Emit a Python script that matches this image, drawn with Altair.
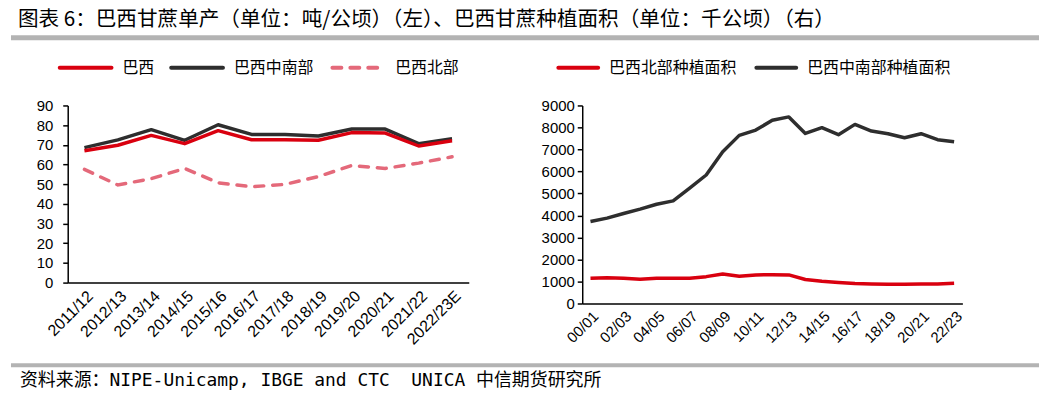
import altair as alt
import pandas as pd

# ---------------- data ----------------
title_text = "图表 6：巴西甘蔗单产（单位：吨/公顷）（左）、巴西甘蔗种植面积（单位：千公顷）（右）"
footer_text = "资料来源：NIPE-Unicamp, IBGE and CTC \u00a0UNICA 中信期货研究所"

seasons_l = ["2011/12", "2012/13", "2013/14", "2014/15", "2015/16", "2016/17",
             "2017/18", "2018/19", "2019/20", "2020/21", "2021/22", "2022/23E"]
names_l = ["巴西", "巴西中南部", "巴西北部"]
brazil = [67.0, 69.8, 74.8, 70.6, 77.2, 72.6, 72.6, 72.3, 76.2, 76.0, 69.4, 72.1]
center_south = [68.6, 72.5, 77.7, 72.3, 80.2, 75.3, 75.2, 74.5, 78.0, 78.0, 70.6, 73.1]
north = [57.5, 49.6, 52.8, 58.0, 50.7, 48.7, 49.9, 53.9, 59.5, 58.0, 60.7, 63.9]

seasons_r = ["00/01", "01/02", "02/03", "03/04", "04/05", "05/06", "06/07", "07/08",
             "08/09", "09/10", "10/11", "11/12", "12/13", "13/14", "14/15", "15/16",
             "16/17", "17/18", "18/19", "19/20", "20/21", "21/22", "22/23"]
names_r = ["巴西北部种植面积", "巴西中南部种植面积"]
north_area = [1150, 1175, 1150, 1100, 1150, 1150, 1150, 1220, 1340, 1240, 1300, 1310,
              1300, 1090, 1010, 950, 905, 890, 875, 875, 890, 890, 920]
cs_area = [3730, 3880, 4090, 4290, 4510, 4665, 5240, 5840, 6900, 7640, 7880, 8330,
           8480, 7730, 7990, 7670, 8140, 7835, 7715, 7535, 7715, 7445, 7355]

# ---------------- styles ----------------
RED = "#D9000F"
DARK = "#2E2E2E"
PINK = "#E4697A"
GRAY = "#B3B3B3"
CJK = "Noto Sans CJK SC"
NUM = "Liberation Sans"

one = pd.DataFrame({"k": [0]})


def series_df(cats, vals):
    return pd.DataFrame({"season": cats, "value": vals})


def text_layer(txt, x, y, size, font=CJK):
    return alt.Chart(pd.DataFrame({"t": [txt]})).mark_text(
        align="left", baseline="middle", font=font, fontSize=size, color="black"
    ).encode(x=alt.value(x), y=alt.value(y), text="t:N")


def legend_line(x1, x2, y, color, dash=None):
    kw = dict(color=color, strokeWidth=4, strokeCap="round")
    if dash:
        kw["strokeDash"] = dash
    return alt.Chart(one).mark_rule(**kw).encode(
        x=alt.value(x1), x2=alt.value(x2), y=alt.value(y))


# ---------------- left panel ----------------
LW, LH = 403, 178
xl = alt.X("season:N", scale=alt.Scale(type="point", domain=seasons_l, padding=0.5),
           axis=alt.Axis(title=None, labelAngle=-45, ticks=False, labelPadding=5,
                         labelFont=NUM, labelFontSize=16, labelColor="black",
                         domainColor="black", domainWidth=1.5))
yl = alt.Y("value:Q", scale=alt.Scale(domain=[0, 90], nice=False),
           axis=alt.Axis(title=None, values=list(range(0, 91, 10)), tickSize=5,
                         tickWidth=1.5, tickColor="black", labelPadding=10,
                         labelFont=NUM, labelFontSize=15, labelColor="black",
                         domainColor="black", domainWidth=1.5, grid=False))

frame = alt.Chart(one).mark_rect(opacity=0).encode(
    x=alt.value(-60), x2=alt.value(-50), y=alt.value(-97), y2=alt.value(-90))

l_north = alt.Chart(series_df(seasons_l, north)).mark_line(
    color=PINK, strokeWidth=3.5, strokeDash=[9, 9], strokeCap="round").encode(x=xl, y=yl)
l_cs = alt.Chart(series_df(seasons_l, center_south)).mark_line(
    color=DARK, strokeWidth=3.5, strokeJoin="round").encode(x=xl, y=yl)
l_br = alt.Chart(series_df(seasons_l, brazil)).mark_line(
    color=RED, strokeWidth=3.5, strokeJoin="round").encode(x=xl, y=yl)

decor_l = [
    frame,
    text_layer(title_text, -50, -86, 20.7),
    alt.Chart(one).mark_rule(color=GRAY, strokeWidth=5).encode(
        x=alt.value(-57), x2=alt.value(976), y=alt.value(-68)),
    alt.Chart(one).mark_rule(color=GRAY, strokeWidth=4).encode(
        x=alt.value(-57), x2=alt.value(976), y=alt.value(261)),
    text_layer(footer_text, -48, 277, 18, font="DejaVu Sans Mono, " + CJK),
    legend_line(-8, 44, -38, RED),
    text_layer(names_l[0], 55, -38, 16),
    legend_line(104, 156, -38, DARK),
    text_layer(names_l[1], 167, -38, 16),
    legend_line(266, 312, -38, PINK, dash=[9, 9]),
    text_layer(names_l[2], 329, -38, 16),
]

left = alt.layer(*decor_l, l_north, l_cs, l_br).properties(width=LW, height=LH)

# ---------------- right panel ----------------
RW, RH = 382, 199
xr = alt.X("season:N", scale=alt.Scale(type="point", domain=seasons_r, padding=0.5),
           axis=alt.Axis(title=None, labelAngle=-45, ticks=False, labelPadding=5,
                         values=seasons_r[::2],
                         labelFont=NUM, labelFontSize=15, labelColor="black",
                         domainColor="black", domainWidth=1.5))
yr = alt.Y("value:Q", scale=alt.Scale(domain=[0, 9000], nice=False),
           axis=alt.Axis(title=None, values=list(range(0, 9001, 1000)), format="d",
                         tickSize=5, tickWidth=1.5, tickColor="black", labelPadding=3,
                         labelFont=NUM, labelFontSize=15, labelColor="black",
                         domainColor="black", domainWidth=1.5, grid=False))

r_cs = alt.Chart(series_df(seasons_r, cs_area)).mark_line(
    color=DARK, strokeWidth=3.5, strokeJoin="round").encode(x=xr, y=yr)
r_no = alt.Chart(series_df(seasons_r, north_area)).mark_line(
    color=RED, strokeWidth=3.5, strokeJoin="round").encode(x=xr, y=yr)

decor_r = [
    legend_line(-24, 16, -38, RED),
    text_layer(names_r[0], 27, -38, 16),
    legend_line(175, 215, -38, DARK),
    text_layer(names_r[1], 226, -38, 16),
]

right = alt.layer(*decor_r, r_cs, r_no).properties(width=RW, height=RH)

chart = alt.hconcat(left, right, spacing=114, bounds="flush").properties(
    padding=0
).configure_view(stroke=None)

chart.save("out.html", embed_options={"renderer": "svg", "actions": False})
